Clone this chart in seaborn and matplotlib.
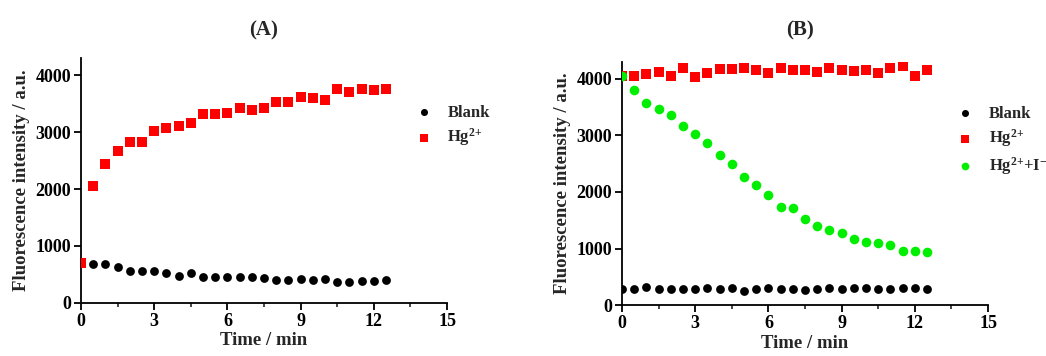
import numpy as np
import pandas as pd
import matplotlib
matplotlib.use("Agg")
import matplotlib.pyplot as plt
from matplotlib.ticker import MultipleLocator
import seaborn as sns

# time points (min), every 30 s
time = [i * 0.5 for i in range(26)]

# panel (A)
a_blank = [700, 690, 680, 640, 560, 560, 560, 520, 480, 520, 460, 450, 460,
           460, 450, 430, 400, 400, 420, 400, 420, 360, 370, 380, 380, 400]
a_hg = [700, 2050, 2440, 2660, 2820, 2830, 3020, 3080, 3100, 3160, 3320, 3320, 3340,
        3420, 3380, 3430, 3530, 3530, 3620, 3600, 3560, 3760, 3700, 3750, 3740, 3750]

# panel (B)
b_blank = [290, 290, 320, 280, 280, 280, 280, 300, 290, 310, 250, 290, 300,
           290, 290, 270, 280, 310, 290, 310, 300, 280, 290, 310, 310, 280]
b_hg = [4060, 4060, 4090, 4120, 4060, 4190, 4030, 4110, 4170, 4170, 4190, 4150, 4100,
        4200, 4160, 4160, 4130, 4200, 4160, 4140, 4150, 4110, 4200, 4230, 4050, 4150]
b_hg_i = [4060, 3800, 3580, 3470, 3360, 3170, 3020, 2870, 2660, 2500, 2260, 2120, 1940,
          1730, 1710, 1520, 1390, 1330, 1270, 1170, 1110, 1090, 1060, 960, 960, 940]

sns.set_style("ticks")
plt.rcParams['font.family'] = ['Liberation Serif', 'DejaVu Serif']
plt.rcParams['font.weight'] = 'bold'
plt.rcParams['mathtext.fontset'] = 'custom'
plt.rcParams['mathtext.rm'] = 'Liberation Serif:bold'
plt.rcParams['mathtext.bf'] = 'Liberation Serif:bold'
plt.rcParams['mathtext.default'] = 'bf'

fig = plt.figure(figsize=(10.46, 3.56), dpi=100)
ax1 = fig.add_axes([0.0774, 0.149, 0.35, 0.688])
ax2 = fig.add_axes([0.5946, 0.143, 0.35, 0.683])

lab_hg = r'Hg$^{2{+}}$'
lab_hgi = r'Hg$^{2{+}}$+I$^{-}$'

dfa = pd.DataFrame({'t': time, 'Blank': a_blank, lab_hg: a_hg})
dfb = pd.DataFrame({'t': time, 'Blank': b_blank, lab_hg: b_hg, lab_hgi: b_hg_i})

styles = {
    'Blank': dict(color='black', marker='o', s=40),
    lab_hg: dict(color='#ff0000', marker='s', s=55),
    lab_hgi: dict(color='#00ee00', marker='o', s=48),
}

for ax, df, series in [(ax1, dfa, ['Blank', lab_hg]),
                       (ax2, dfb, ['Blank', lab_hg, lab_hgi])]:
    for name in series:
        st = styles[name]
        sns.scatterplot(data=df, x='t', y=name, ax=ax, color=st['color'],
                        marker=st['marker'], s=st['s'], linewidth=0,
                        label=name, zorder=3)
    ax.set_xlim(0, 15)
    ax.set_ylim(0, 4300)
    ax.xaxis.set_major_locator(MultipleLocator(3))
    ax.xaxis.set_minor_locator(MultipleLocator(1.5))
    ax.yaxis.set_major_locator(MultipleLocator(1000))
    sns.despine(ax=ax)
    for sp in ['left', 'bottom']:
        ax.spines[sp].set_linewidth(1.3)
        ax.spines[sp].set_color('black')
    ax.tick_params(axis='both', which='major', direction='out', length=5,
                   width=1.3, labelsize=13, colors='black', pad=2)
    ax.tick_params(axis='x', which='minor', direction='out', length=3, width=1.2)
    for lb in ax.get_xticklabels() + ax.get_yticklabels():
        lb.set_fontweight('bold')
    ax.set_xlabel('Time / min', fontsize=13.5, fontweight='bold', labelpad=2)
    ax.set_ylabel('Fluorescence intensity / a.u.', fontsize=13.5, fontweight='bold',
                  labelpad=4)

leg_kw = dict(loc='upper left', frameon=False, fontsize=12, borderaxespad=0,
              handlelength=1.0, handletextpad=0.9, labelspacing=0.35,
              markerscale=0.8)
leg1 = ax1.legend(bbox_to_anchor=(0.896, 0.837), **leg_kw)
leg2 = ax2.legend(bbox_to_anchor=(0.897, 0.848), **leg_kw)
for leg in (leg1, leg2):
    for tx in leg.get_texts():
        tx.set_fontweight('bold')

fig.text(0.2515, 0.915, '(A)', ha='center', va='center', fontsize=15, fontweight='bold')
fig.text(0.765, 0.915, '(B)', ha='center', va='center', fontsize=15, fontweight='bold')

fig.savefig('out.png', dpi=100)
